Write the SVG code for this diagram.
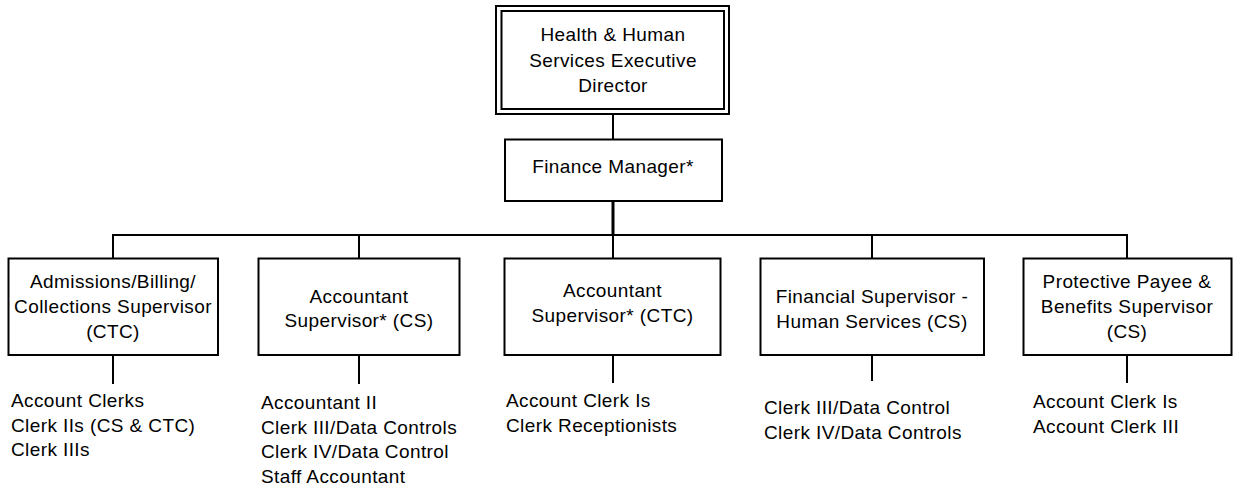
<svg xmlns="http://www.w3.org/2000/svg" width="1233" height="491" viewBox="0 0 1233 491">
  <style>
    .box { fill: #ffffff; stroke: #000000; stroke-width: 2; }
    .line { fill: none; stroke: #000000; stroke-width: 2; }
    .trunk { fill: none; stroke: #000000; stroke-width: 3; }
    text { font-family: "Liberation Sans", Arial, sans-serif; font-size: 19px; letter-spacing: 0.4px; fill: #000000; }
    .c { text-anchor: middle; }
  </style>
  <rect width="1233" height="491" fill="#ffffff"/>

  <!-- reporting lines -->
  <g id="connectors">
    <line class="line" x1="613" y1="114" x2="613" y2="139"/>
    <line class="trunk" x1="613" y1="201" x2="613" y2="235"/>
    <line class="line" x1="113" y1="235" x2="1127" y2="235"/>
    <line class="line" x1="113" y1="234" x2="113" y2="258"/>
    <line class="line" x1="359" y1="234" x2="359" y2="258"/>
    <line class="line" x1="613" y1="234" x2="613" y2="258"/>
    <line class="line" x1="872" y1="234" x2="872" y2="258"/>
    <line class="line" x1="1127" y1="234" x2="1127" y2="258"/>
    <line class="line" x1="113" y1="355" x2="113" y2="384"/>
    <line class="line" x1="359" y1="355" x2="359" y2="384"/>
    <line class="line" x1="613" y1="355" x2="613" y2="383"/>
    <line class="line" x1="872" y1="355" x2="872" y2="381"/>
    <line class="line" x1="1127" y1="355" x2="1127" y2="383"/>
  </g>

  <g id="executive-director">
    <rect class="box" x="496" y="6" width="233" height="108"/>
    <rect class="box" x="501.5" y="11" width="222.5" height="98"/>
    <text class="c" x="613" y="41">Health &amp; Human</text>
    <text class="c" x="613" y="66.5">Services Executive</text>
    <text class="c" x="613" y="92">Director</text>
  </g>

  <g id="finance-manager">
    <rect class="box" x="505" y="139.5" width="217" height="61.5"/>
    <text class="c" x="613" y="173">Finance Manager*</text>
  </g>

  <g id="admissions-supervisor">
    <rect class="box" x="8.5" y="258.5" width="209.5" height="96.5"/>
    <text class="c" x="113" y="288">Admissions/Billing/</text>
    <text class="c" x="113" y="313">Collections Supervisor</text>
    <text class="c" x="113" y="338">(CTC)</text>
    <text x="11" y="407">Account Clerks</text>
    <text x="11" y="431.5">Clerk IIs (CS &amp; CTC)</text>
    <text x="11" y="456">Clerk IIIs</text>
  </g>

  <g id="accountant-supervisor-cs">
    <rect class="box" x="258.5" y="258.5" width="201" height="96.5"/>
    <text class="c" x="359" y="302.5">Accountant</text>
    <text class="c" x="359" y="327">Supervisor* (CS)</text>
    <text x="261" y="409">Accountant II</text>
    <text x="261" y="433.5">Clerk III/Data Controls</text>
    <text x="261" y="458">Clerk IV/Data Control</text>
    <text x="261" y="482.5">Staff Accountant</text>
  </g>

  <g id="accountant-supervisor-ctc">
    <rect class="box" x="504.5" y="258.5" width="216" height="96.5"/>
    <text class="c" x="612.5" y="297">Accountant</text>
    <text class="c" x="612.5" y="322">Supervisor* (CTC)</text>
    <text x="506" y="407">Account Clerk Is</text>
    <text x="506" y="432">Clerk Receptionists</text>
  </g>

  <g id="financial-supervisor">
    <rect class="box" x="760.5" y="258.5" width="223.5" height="96.5"/>
    <text class="c" x="872" y="303">Financial Supervisor -</text>
    <text class="c" x="872" y="328">Human Services (CS)</text>
    <text x="764" y="414">Clerk III/Data Control</text>
    <text x="764" y="439">Clerk IV/Data Controls</text>
  </g>

  <g id="protective-payee-supervisor">
    <rect class="box" x="1023.5" y="258.5" width="208" height="96.5"/>
    <text class="c" x="1127" y="288">Protective Payee &amp;</text>
    <text class="c" x="1127" y="313">Benefits Supervisor</text>
    <text class="c" x="1127" y="338">(CS)</text>
    <text x="1033" y="408">Account Clerk Is</text>
    <text x="1033" y="433">Account Clerk III</text>
  </g>
</svg>
